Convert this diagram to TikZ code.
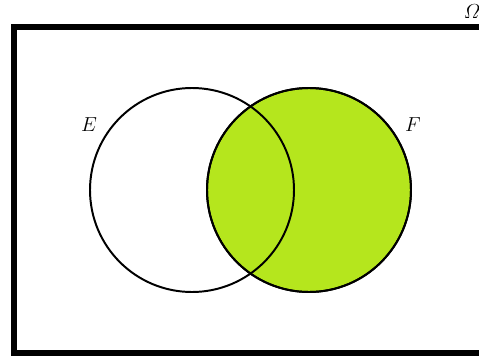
\documentclass[tikz,border=0pt]{standalone}
\usepackage{amsmath}
\usepackage{amsfonts}
\usepackage{amssymb}
\usepackage{tikz}
\definecolor{venngreen}{RGB}{181,230,29}
\begin{document}
\begin{tikzpicture}[
                    universe/.style={draw, line width=3.6pt},
                    set/.style={circle, draw, line width=1.4pt, minimum size=5.1cm, inner sep=0pt},
                    setlabel/.style={font=\Large}
                ]
                \useasboundingbox (0,0) rectangle (11.975,9.05);
                \clip (0,0) rectangle (11.975,9.05);
                \draw[universe] (0.35,0.225) rectangle (12.6,8.375);
                \node[setlabel] (omega) at (11.8,8.75) {$\varOmega$};
                \node[set, fill=venngreen] (F) at (7.725,4.3) {};
                \node[set] (E) at (4.8,4.3) {};
                \node[set] (Fo) at (F) {};
                \node[setlabel] (Elabel) at (2.225,5.925) {$E$};
                \node[setlabel] (Flabel) at (10.325,5.925) {$F$};
                \end{tikzpicture}
\end{document}
